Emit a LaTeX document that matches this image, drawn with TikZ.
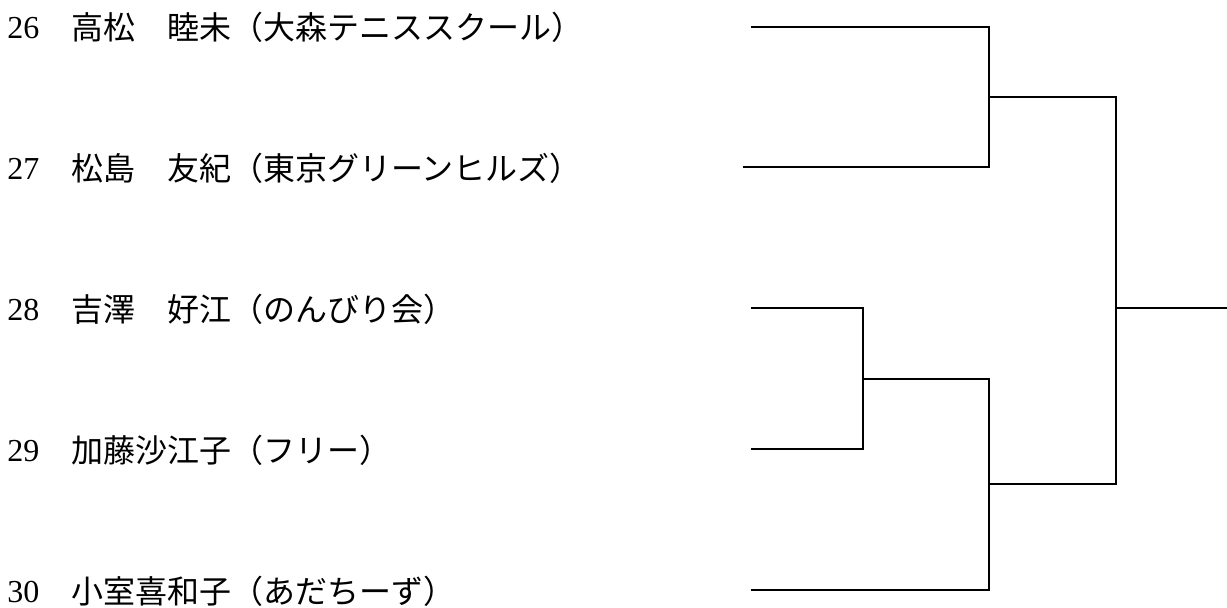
\documentclass[tikz,border=0pt]{standalone}
\usepackage{fontspec}
\setmainfont{Liberation Serif}
\newfontfamily\cjk{Noto Sans CJK JP}
\begin{document}
\begin{tikzpicture}[x=0.5pt,y=-0.5pt]
%%%%%%%%%%%%%%%%%%%%%%%%%%%%%%%%%%%%%%%%%%%%%%%%%%%%%%%%
% STYLE
\tikzstyle{num}=[anchor=west,inner sep=0pt,font=\fontsize{16pt}{19pt}\selectfont]
\tikzstyle{player}=[anchor=west,inner sep=0pt,font=\fontsize{16pt}{19pt}\selectfont\cjk]

\tikzset{link/.style={line width=0.85pt}}

\useasboundingbox (0,0) rectangle (1227,607);
%%%%%%%%%%%%%%%%%%%%%%%%%%%%%%%%%%%%%%%%%%%%%%%%%%%%%%%%
% NODES
\node[num] (n26) at (7, 28) {26};
\node[num] (n27) at (7, 169) {27};
\node[num] (n28) at (7, 310) {28};
\node[num] (n29) at (7, 451) {29};
\node[num] (n30) at (7, 592) {30};

\node[player] (p26) at (71, 27) {高松　睦未（大森テニススクール）};
\node[player] (p27) at (71, 168) {松島　友紀（東京グリーンヒルズ）};
\node[player] (p28) at (71, 309) {吉澤　好江（のんびり会）};
\node[player] (p29) at (71, 450) {加藤沙江子（フリー）};
\node[player] (p30) at (71, 591) {小室喜和子（あだちーず）};

\coordinate (s26) at (751, 27);
\coordinate (s27) at (743, 167);
\coordinate (s28) at (751, 308);
\coordinate (s29) at (751, 449);
\coordinate (s30) at (751, 590);

\coordinate (m2627) at (989, 97);
\coordinate (m2829) at (863, 379);
\coordinate (m2830) at (989, 484);
\coordinate (fin) at (1116, 308);
\coordinate (win) at (1227, 308);
%%%%%%%%%%%%%%%%%%%%%%%%%%%%%%%%%%%%%%%%%%%%%%%%%%%%%%%%
% LINKS
\draw[link] (s26) -| (m2627);
\draw[link] (s27) -| (m2627);
\draw[link] (s28) -| (m2829);
\draw[link] (s29) -| (m2829);
\draw[link] (m2829) -| (m2830);
\draw[link] (s30) -| (m2830);
\draw[link] (m2627) -| (fin);
\draw[link] (m2830) -| (fin);
\draw[link] (fin) -- (win);
\end{tikzpicture}
\end{document}
